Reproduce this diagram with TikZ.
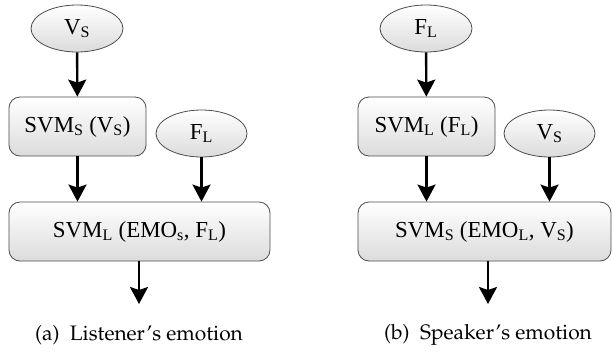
\documentclass[tikz,border=0pt]{standalone}
\usepackage{fontspec}
\setmainfont{Liberation Serif}
\usetikzlibrary{arrows.meta}
\newcommand{\sbs}[1]{\textsubscript{#1}}
\newcommand{\capfont}{\fontencoding{OT1}\fontfamily{ppl}\selectfont}
\tikzset{
  shade box/.style={draw=black!70, line width=0.8bp, top color=white, bottom color=black!14},
  procbox/.style={shade box, rounded corners=11bp, minimum height=59bp, inner sep=0pt, font=\fontsize{23}{27}\selectfont},
  inell/.style={shade box, ellipse, minimum width=92bp, minimum height=47bp, inner sep=0pt, font=\fontsize{23}{27}\selectfont},
  flow/.style={line width=2.4bp, -{Stealth[length=17bp, width=18bp, inset=3bp]}},
  capt/.style={font=\capfont\fontsize{21}{25}\selectfont}
}
\usetikzlibrary{shapes.geometric}
\begin{document}
\begin{tikzpicture}[x=1bp,y=-1bp]
\useasboundingbox (0,0) rectangle (612,351);
\clip (0,0) rectangle (612,351);
% left panel
\node[inell] (vs1) at (77,28.5) {V\sbs{S}};
\node[procbox, minimum width=137bp] (svms) at (77.5,126.5) {SVM\sbs{S} (V\sbs{S})};
\node[inell, minimum width=91bp] (fl1) at (201.5,133.5) {F\sbs{L}};
\node[procbox, minimum width=261bp] (svml) at (139.5,231.5) {SVM\sbs{L} (EMO\sbs{s}, F\sbs{L})};
\coordinate (outa) at (139,304);
\node[capt] (capa) at (139,335) {(a)\ \ Listener's emotion};
\draw[flow] (vs1) -- (svms);
\draw[flow] (svms.south) -- (svms.south |- svml.north);
\draw[flow] (fl1.south) -- (fl1.south |- svml.north);
\draw[flow] (svml.south -| outa) -- (outa);
% right panel
\node[inell] (fl2) at (426,28.5) {F\sbs{L}};
\node[procbox, minimum width=137bp] (svml2) at (426.5,126.5) {SVM\sbs{L} (F\sbs{L})};
\node[inell, minimum width=91bp] (vs2) at (549.5,133.5) {V\sbs{S}};
\node[procbox, minimum width=253bp] (svms2) at (484.5,231.5) {SVM\sbs{S} (EMO\sbs{L}, V\sbs{S})};
\coordinate (outb) at (488,304);
\node[capt] (capb) at (488,335) {(b)\ \ Speaker's emotion};
\draw[flow] (fl2) -- (svml2);
\draw[flow] (svml2.south) -- (svml2.south |- svms2.north);
\draw[flow] (vs2.south) -- (vs2.south |- svms2.north);
\draw[flow] (svms2.south -| outb) -- (outb);
\end{tikzpicture}
\end{document}
